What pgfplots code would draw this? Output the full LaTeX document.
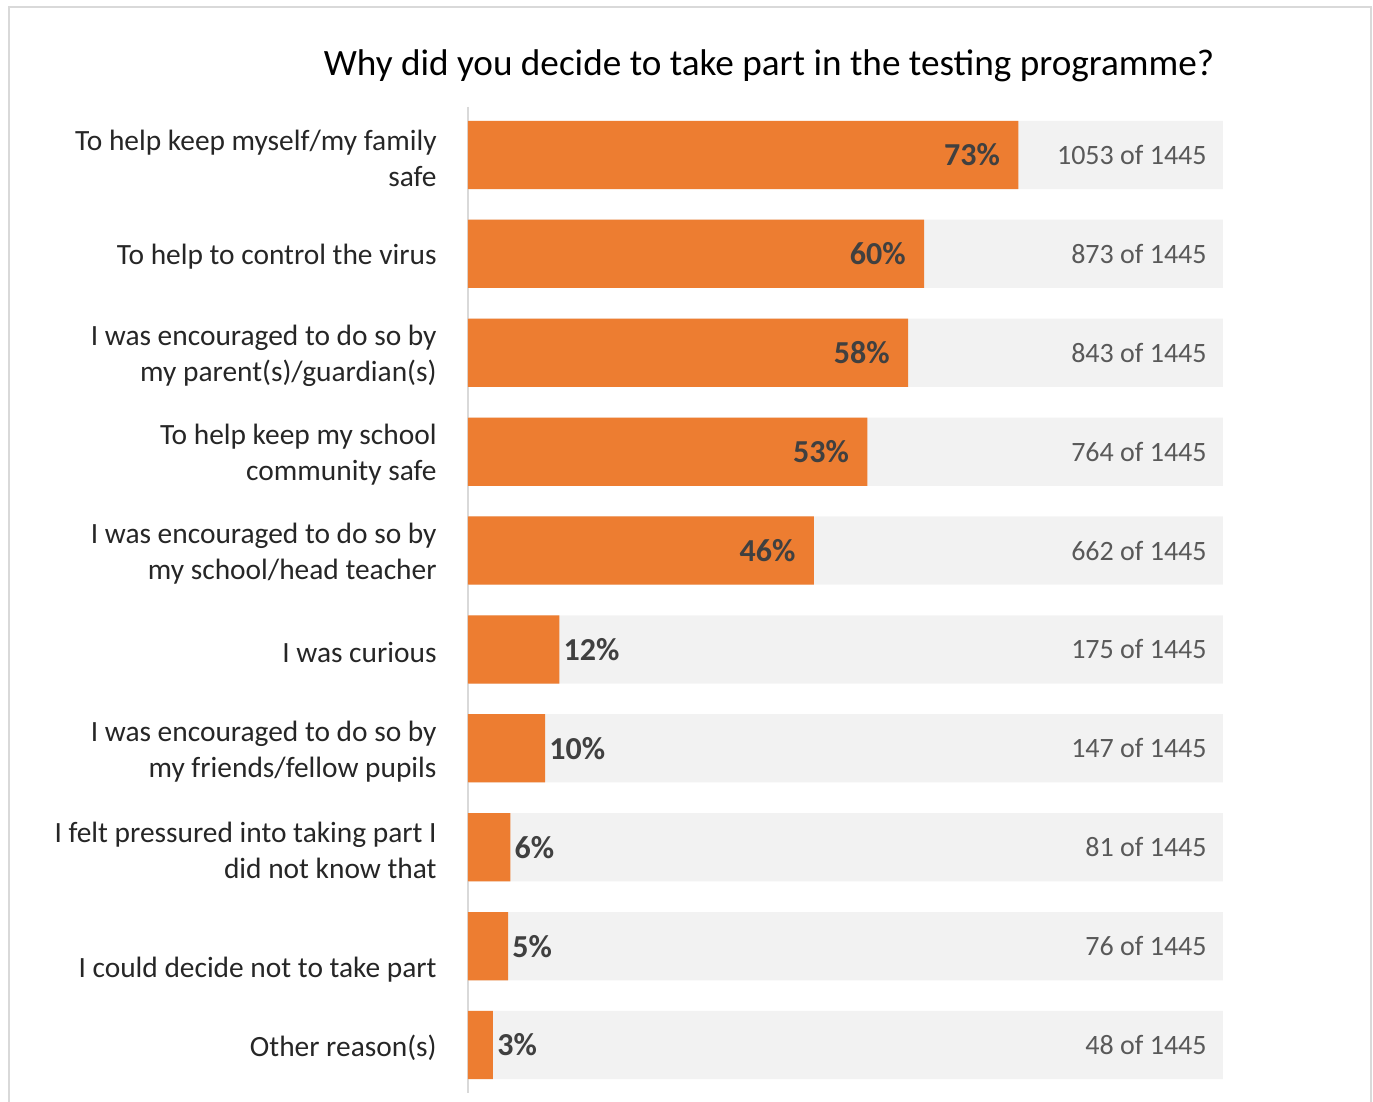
\documentclass[border=0pt]{standalone}
\usepackage{pgfplots}
\pgfplotsset{compat=1.18}
\usepackage{pgfplotstable}
\usepackage{fontspec}
\setmainfont{Carlito}
\definecolor{barorange}{HTML}{ED7D31}
\definecolor{barbg}{HTML}{F2F2F2}
\definecolor{axisgrey}{HTML}{D9D9D9}
\definecolor{labeltext}{HTML}{262626}
\definecolor{pcttext}{HTML}{404040}
\definecolor{cnttext}{HTML}{595959}

\pgfplotstableread{
idx all n
0 100 1053
1 100 873
2 100 843
3 100 764
4 100 662
5 100 175
6 100 147
7 100 81
8 100 76
9 100 48
}\bgdata

\pgfplotstableread{
idx pct lab
0 72.9 73
1 60.4 60
2 58.3 58
3 52.9 53
4 45.8 46
}\bigdata

\pgfplotstableread{
idx pct lab
5 12.1 12
6 10.2 10
7 5.6 6
8 5.3 5
9 3.3 3
}\smalldata

\begin{document}
\begin{tikzpicture}
\begin{axis}[
  at={(0,0)}, anchor=south west,
  scale only axis,
  width=377.5pt, height=493pt,
  xbar, bar width=0.69, bar shift=0pt,
  xmin=0, xmax=100,
  ymin=-0.485, ymax=9.485,
  y dir=reverse,
  axis x line=none,
  axis y line*=left,
  y axis line style={draw=axisgrey, line width=1pt, -},
  xtick=\empty,
  ytick={0,...,9},
  major tick length=0pt,
  yticklabels={
    {To help keep myself/my family\\safe},
    {To help to control the virus},
    {I was encouraged to do so by\\my parent(s)/guardian(s)},
    {To help keep my school\\community safe},
    {I was encouraged to do so by\\my school/head teacher},
    {I was curious},
    {I was encouraged to do so by\\my friends/fellow pupils},
    {I felt pressured into taking part I\\did not know that},
    {\strut\\I could decide not to take part},
    {Other reason(s)}
  },
  yticklabel style={align=right, anchor=east, inner sep=0pt, xshift=-15.5pt, yshift=-1.5pt,
    text=labeltext, font=\fontsize{14.7}{18}\selectfont},
  clip=false,
]
\addplot[fill=barbg, draw=none,
  point meta=explicit symbolic,
  nodes near coords={\pgfplotspointmeta\ of 1445},
  every node near coord/.append style={anchor=east, inner sep=0pt, xshift=-8pt,
    text=cnttext, font=\fontsize{14}{16}\selectfont}]
  table[x=all, y=idx, meta=n] {\bgdata};
\addplot[fill=barorange, draw=none,
  point meta=explicit symbolic,
  nodes near coords={\pgfplotspointmeta\%},
  every node near coord/.append style={anchor=east, inner sep=0pt, xshift=-9pt,
    text=pcttext, font=\fontsize{16}{18}\selectfont\bfseries}]
  table[x=pct, y=idx, meta=lab] {\bigdata};
\addplot[fill=barorange, draw=none,
  point meta=explicit symbolic,
  nodes near coords={\pgfplotspointmeta\%},
  every node near coord/.append style={anchor=west, inner sep=0pt, xshift=2pt,
    text=pcttext, font=\fontsize{16}{18}\selectfont\bfseries}]
  table[x=pct, y=idx, meta=lab] {\smalldata};
\end{axis}
\node[font=\fontsize{18.6}{22}\selectfont, text=black] at (150.5pt,513.5pt) {Why did you decide to take part in the testing programme?};
\draw[axisgrey, line width=1pt] (-229.5pt,-10pt) -- (-229.5pt,543pt) -- (451.5pt,543pt) -- (451.5pt,-10pt);
\pgfresetboundingbox
\path[use as bounding box] (-234pt,-4.5pt) rectangle (452.5pt,546.5pt);
\end{tikzpicture}
\end{document}
